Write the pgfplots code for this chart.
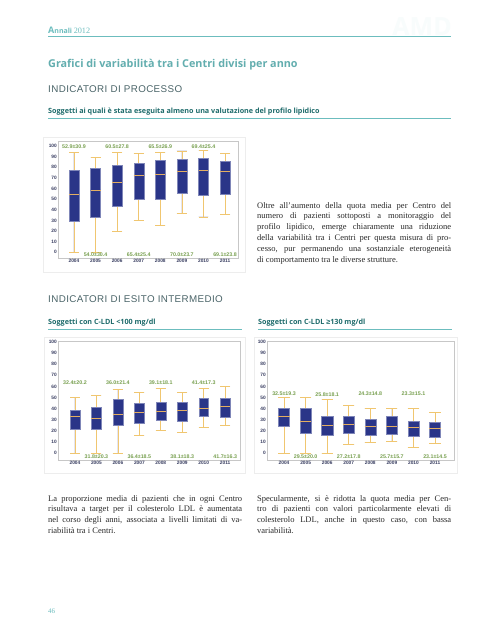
\documentclass[border=0pt]{standalone}
\usepackage{fontspec}
\setmainfont{Liberation Serif}
\newfontfamily\osans{Open Sans}
\newfontfamily\lsans{Liberation Sans}
\newfontfamily\lsanswide[LetterSpace=4]{Liberation Sans}
\usepackage{pgfplots}
\usepackage{pgfplotstable}
\pgfplotsset{compat=1.18}
\usepgfplotslibrary{statistics}

\definecolor{teal1}{HTML}{6CBDBE}
\definecolor{tealdark}{HTML}{1E6B6B}
\definecolor{grayhead}{HTML}{4A6468}
\definecolor{navy}{HTML}{2A3588}
\definecolor{gold}{HTML}{F0C670}
\definecolor{medc}{HTML}{E3AE62}
\definecolor{annc}{HTML}{78A050}
\definecolor{tickc}{HTML}{3A3F62}
\definecolor{bodyc}{HTML}{2A2A2A}

% chart 1: soggetti con almeno una valutazione del profilo lipidico
\pgfplotstableread{
lw   lq   med  uq   uw
0    29.5 54.5 77.4 94
0    33.0 58.6 78.7 89
19.7 43.3 65.8 82.4 93.7
30.0 49.5 72.7 84.3 93
25.4 49.8 73.4 86.2 94
36.7 55.2 75.9 87.8 95.3
33.2 53.6 76.8 88.4 96
36.0 54.2 76.2 85.9 93
}\tabA
% chart 2: C-LDL < 100
\pgfplotstableread{
lw   lq   med  uq   uw
0    21.9 33.0 39.0 50.2
0    21.9 31.5 41.4 52.0
0    24.9 34.5 48.6 57.4
16.2 27.0 36.6 45.0 54.7
20.4 30.0 37.8 46.2 58.0
18.3 29.1 38.1 46.2 54.4
23.1 33.0 40.5 49.2 58.0
24.9 32.4 41.7 49.5 59.8
}\tabB
% chart 3: C-LDL >= 130
\pgfplotstableread{
lw   lq   med  uq   uw
0    24.6 33.0 40.2 50.2
0    17.7 28.5 40.2 50.2
0    16.5 25.2 33.0 48.0
7.8  17.7 25.8 33.0 43.2
9.3  16.5 24.0 30.3 40.2
10.8 17.4 24.3 33.0 40.2
5.1  15.0 23.1 28.8 40.2
9.0  14.4 21.9 27.9 36.6
}\tabC

\pgfplotsset{
 bchart/.style={
  scale only axis, clip=false,
  axis line style={draw=black!22, line width=0.4pt},
  major tick length=0pt,
  xtick={0,...,7},
  xticklabels={2004,2005,2006,2007,2008,2009,2010,2011},
  ytick={0,10,...,100},
  ticklabel style={font=\lsans\bfseries\fontsize{4.8}{5}\selectfont, text=tickc, inner sep=1pt},
  /pgf/number format/assume math mode=true,
  boxplot/draw direction=y,
 },
 bp/.style={fill=navy, draw=navy!60!white, line width=0.35pt,
   boxplot/every median/.style={draw=medc, line width=0.7pt},
   boxplot/every whisker/.style={draw=gold, line width=0.7pt},
   boxplot/box extend=#1, boxplot/whisker extend=#1},
}
\tikzset{ann/.style={font=\lsans\bfseries\fontsize{5.3}{5.5}\selectfont, text=annc, inner sep=0pt}}

% #1 table, #2 row, #3 box width
\newcommand\boxrow[3]{%
 \pgfplotstablegetelem{#2}{lw}\of#1\let\vlw\pgfplotsretval
 \pgfplotstablegetelem{#2}{lq}\of#1\let\vlq\pgfplotsretval
 \pgfplotstablegetelem{#2}{med}\of#1\let\vmed\pgfplotsretval
 \pgfplotstablegetelem{#2}{uq}\of#1\let\vuq\pgfplotsretval
 \pgfplotstablegetelem{#2}{uw}\of#1\let\vuw\pgfplotsretval
 \edef\tmpplot{\noexpand\addplot[bp=#3, boxplot prepared={draw position=#2,
   lower whisker=\vlw, lower quartile=\vlq, median=\vmed,
   upper quartile=\vuq, upper whisker=\vuw}] coordinates {};}%
 \tmpplot}

\newcommand\ptext{\fontsize{8.5}{10.9}\selectfont\color{bodyc}}
\newcommand\jl[3]{\node[anchor=base west, inner sep=0pt, font=\ptext] at (#1pt,-#2pt) {\makebox[194pt][s]{#3}};}
\newcommand\lastl[3]{\node[anchor=base west, inner sep=0pt, font=\ptext] at (#1pt,-#2pt) {#3};}

\begin{document}
\begin{tikzpicture}
\fill[white] (0pt,0pt) rectangle (498pt,-640pt);

% header
\node[anchor=base east, inner sep=0pt, text=teal1!5] at (452pt,-35pt) {\osans\bfseries\fontsize{25}{25}\selectfont AMD};
\node[anchor=base west, inner sep=0pt, text=teal1] at (48pt,-33pt) {{\osans\bfseries\fontsize{9}{9}\selectfont A\fontsize{7}{7}\selectfont nnali}\,{\fontsize{8.2}{8}\selectfont 2012}};
\draw[teal1, line width=0.8pt] (48pt,-36.5pt) -- (451pt,-36.5pt);

\node[anchor=base west, inner sep=0pt, text=teal1!92!black] at (48pt,-67pt) {\osans\bfseries\fontsize{10.8}{11}\selectfont Grafici di variabilità tra i Centri divisi per anno};
\node[anchor=base west, inner sep=0pt, text=grayhead] at (48pt,-92.5pt) {\lsanswide\fontsize{9.8}{10}\selectfont INDICATORI DI PROCESSO};
\node[anchor=base west, inner sep=0pt, text=tealdark] at (48pt,-113.5pt) {\osans\bfseries\fontsize{7.2}{8}\selectfont Soggetti ai quali è stata eseguita almeno una valutazione del profilo lipidico};
\draw[teal1, line width=0.6pt] (48pt,-118.3pt) -- (451pt,-118.3pt);

% chart 1
\draw[black!7, line width=0.5pt] (43pt,-137pt) rectangle (245pt,-272pt);
\begin{axis}[bchart, at={(58pt,-258pt)}, anchor=south west,
  width=180pt, height=117pt, xmin=-0.74, xmax=7.6, ymin=-5.4, ymax=104.7]
\boxrow{\tabA}{0}{0.46}\boxrow{\tabA}{1}{0.46}\boxrow{\tabA}{2}{0.46}\boxrow{\tabA}{3}{0.46}
\boxrow{\tabA}{4}{0.46}\boxrow{\tabA}{5}{0.46}\boxrow{\tabA}{6}{0.46}\boxrow{\tabA}{7}{0.46}
\node[ann] at (axis cs:0,99) {52.9±30.9};
\node[ann] at (axis cs:2,99) {60.5±27.8};
\node[ann] at (axis cs:4,99) {65.5±26.9};
\node[ann] at (axis cs:6,99) {69.4±25.4};
\node[ann] at (axis cs:1,-2.6) {54.0±30.4};
\node[ann] at (axis cs:3,-2.6) {65.4±25.4};
\node[ann] at (axis cs:5,-2.6) {70.0±23.7};
\node[ann] at (axis cs:7,-2.6) {69.1±23.8};
\end{axis}

% paragraph right of chart 1
\jl{257}{208}{Oltre all’aumento della quota media per Centro del}
\jl{257}{218.9}{numero di pazienti sottoposti a monitoraggio del}
\jl{257}{229.8}{profilo lipidico, emerge chiaramente una riduzione}
\jl{257}{240.7}{della variabilità tra i Centri per questa misura di pro-}
\jl{257}{251.6}{cesso, pur permanendo una sostanziale eterogeneità}
\lastl{257}{262.5}{di comportamento tra le diverse strutture.}

% section 2
\node[anchor=base west, inner sep=0pt, text=grayhead] at (48pt,-302.5pt) {\lsanswide\fontsize{9.8}{10}\selectfont INDICATORI DI ESITO INTERMEDIO};
\node[anchor=base west, inner sep=0pt, text=tealdark] at (48pt,-324.3pt) {\osans\bfseries\fontsize{7.2}{8}\selectfont Soggetti con C-LDL <100 mg/dl};
\draw[teal1, line width=0.6pt] (48pt,-329.2pt) -- (242pt,-329.2pt);
\node[anchor=base west, inner sep=0pt, text=tealdark] at (258pt,-324.3pt) {\osans\bfseries\fontsize{7.2}{8}\selectfont Soggetti con C-LDL {\lsans ≥}130 mg/dl};
\draw[teal1, line width=0.6pt] (258pt,-329.2pt) -- (452pt,-329.2pt);

% chart 2
\draw[black!7, line width=0.5pt] (44pt,-337pt) rectangle (245pt,-473pt);
\begin{axis}[bchart, at={(58pt,-460pt)}, anchor=south west,
  width=182pt, height=119pt, xmin=-0.79, xmax=7.69, ymin=-6.3, ymax=100.9]
\boxrow{\tabB}{0}{0.46}\boxrow{\tabB}{1}{0.46}\boxrow{\tabB}{2}{0.46}\boxrow{\tabB}{3}{0.46}
\boxrow{\tabB}{4}{0.46}\boxrow{\tabB}{5}{0.46}\boxrow{\tabB}{6}{0.46}\boxrow{\tabB}{7}{0.46}
\node[ann] at (axis cs:0,63) {32.4±20.2};
\node[ann] at (axis cs:2,63) {36.0±21.4};
\node[ann] at (axis cs:4,63) {39.1±18.1};
\node[ann] at (axis cs:6,63) {41.4±17.3};
\node[ann] at (axis cs:1,-3.3) {31.8±20.3};
\node[ann] at (axis cs:3,-3.3) {36.4±18.5};
\node[ann] at (axis cs:5,-3.3) {38.1±18.3};
\node[ann] at (axis cs:7,-3.3) {41.7±16.3};
\end{axis}

% chart 3
\draw[black!7, line width=0.5pt] (254pt,-337pt) rectangle (457pt,-473pt);
\begin{axis}[bchart, at={(267pt,-460pt)}, anchor=south west,
  width=187pt, height=119pt, xmin=-0.79, xmax=7.88, ymin=-6.3, ymax=100.9]
\boxrow{\tabC}{0}{0.52}\boxrow{\tabC}{1}{0.52}\boxrow{\tabC}{2}{0.52}\boxrow{\tabC}{3}{0.52}
\boxrow{\tabC}{4}{0.52}\boxrow{\tabC}{5}{0.52}\boxrow{\tabC}{6}{0.52}\boxrow{\tabC}{7}{0.52}
\node[ann] at (axis cs:0,53) {32.5±19.3};
\node[ann] at (axis cs:2,53) {25.8±18.1};
\node[ann] at (axis cs:4,53) {24.3±14.8};
\node[ann] at (axis cs:6,53) {23.3±15.1};
\node[ann] at (axis cs:1,-3.3) {29.5±20.0};
\node[ann] at (axis cs:3,-3.3) {27.2±17.8};
\node[ann] at (axis cs:5,-3.3) {25.7±15.7};
\node[ann] at (axis cs:7,-3.3) {23.1±14.5};
\end{axis}

% bottom paragraphs
\jl{48}{501}{La proporzione media di pazienti che in ogni Centro}
\jl{48}{511.9}{risultava a target per il colesterolo LDL è aumentata}
\jl{48}{522.8}{nel corso degli anni, associata a livelli limitati di va-}
\lastl{48}{533.7}{riabilità tra i Centri.}

\jl{257}{501}{Specularmente, si è ridotta la quota media per Cen-}
\jl{257}{511.9}{tro di pazienti con valori particolarmente elevati di}
\jl{257}{522.8}{colesterolo LDL, anche in questo caso, con bassa}
\lastl{257}{533.7}{variabilità.}

\node[anchor=base west, inner sep=0pt, text=teal1] at (48pt,-613.5pt) {\fontsize{7}{8}\selectfont 46};
\end{tikzpicture}
\end{document}
